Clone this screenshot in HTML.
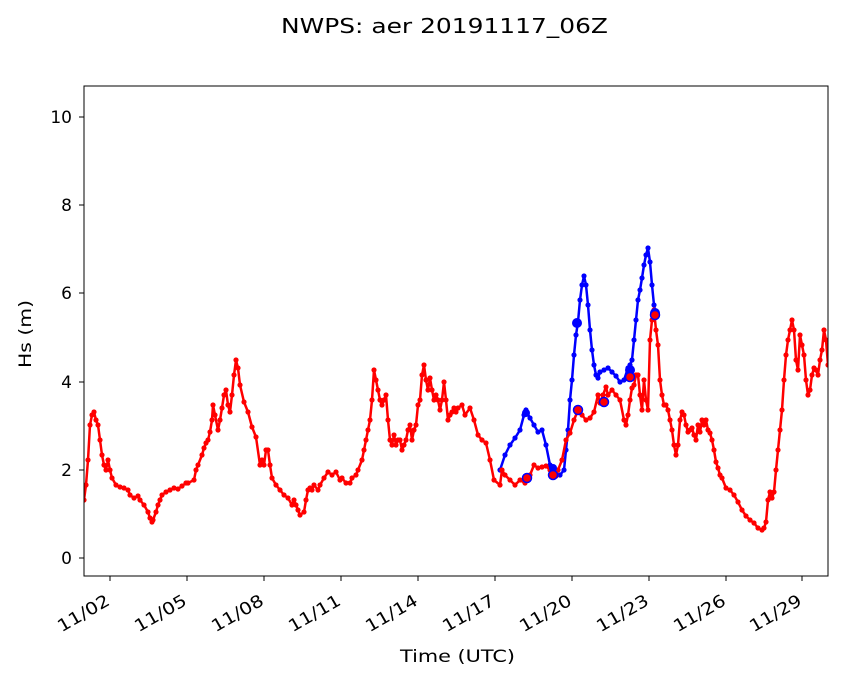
<!DOCTYPE html>
<html><head><meta charset="utf-8"><style>
html,body{margin:0;padding:0;background:#fff;}
svg text{font-family:"DejaVu Sans","Liberation Sans",sans-serif;fill:#000;}
</style></head><body>
<svg width="846" height="681" viewBox="0 0 846 681" xmlns="http://www.w3.org/2000/svg">
<defs>
<marker id="mr" markerUnits="userSpaceOnUse" markerWidth="7" markerHeight="7" refX="3.5" refY="3.5"><circle cx="3.5" cy="3.5" r="2.6" fill="#f00"/></marker>
<marker id="mb" markerUnits="userSpaceOnUse" markerWidth="7" markerHeight="7" refX="3.5" refY="3.5"><circle cx="3.5" cy="3.5" r="2.6" fill="#00f"/></marker>
<clipPath id="c"><rect x="84" y="86" width="744" height="490"/></clipPath>
</defs>
<rect width="846" height="681" fill="#fff"/>
<text x="281" y="33" font-size="20" textLength="327" lengthAdjust="spacingAndGlyphs">NWPS: aer 20191117_06Z</text>
<g clip-path="url(#c)">
<polyline fill="none" stroke="#00f" stroke-width="2.5" marker-start="url(#mb)" marker-mid="url(#mb)" marker-end="url(#mb)" points="500,470 505,455 510,445 515,438 520,430 524,415 526,410 530,418 534,425 538,432 542,430 546,445 550,465 552,470 556,475 560,475 564,470 566,450 568,430 570,400 572,380 574,355 576,335 578,322 580,300 582,285 584,276 586,285 588,305 590,330 592,350 594,365 596,375 598,378 600,372 604,370 608,368 612,372 616,376 620,382 624,380 628,368 630,365 632,360 634,340 636,320 638,300 640,290 642,278 644,265 646,255 648,248 650,262 652,285 654,305 656,315"/>
<polyline fill="none" stroke="#f00" stroke-width="2.5" stroke-linejoin="round" marker-start="url(#mr)" marker-mid="url(#mr)" marker-end="url(#mr)" points="84,500 86,485 88,460 90,425 92,415 94,412 96,420 98,425 100,440 102,455 104,465 106,470 108,460 110,470 112,478 116,485 120,487 124,488 128,490 130,495 134,498 138,496 140,500 144,505 148,512 150,518 152,522 153,520 156,512 158,505 160,500 162,495 166,492 170,490 174,488 178,489 182,486 186,483 188,483 194,480 196,470 198,465 202,455 204,448 206,443 208,440 210,432 212,420 213,405 215,415 218,430 220,420 222,408 224,395 226,390 228,405 230,412 232,395 234,375 236,360 238,368 240,385 244,402 248,412 252,427 256,437 260,465 262,460 264,465 266,450 268,450 270,465 272,478 276,485 280,490 284,495 288,498 292,505 294,500 296,505 298,510 300,515 304,512 306,500 308,490 310,488 312,490 314,485 318,490 320,485 324,478 328,472 332,475 336,472 340,480 342,478 346,483 350,483 352,478 356,475 358,470 362,460 364,450 366,440 368,430 370,420 372,400 374,370 376,380 378,390 380,400 382,405 384,400 386,395 388,420 390,440 392,445 394,435 396,445 398,440 400,440 402,450 404,445 406,440 408,430 410,425 412,440 414,430 416,425 418,405 420,400 422,375 424,365 426,380 428,390 430,378 432,390 434,400 436,395 438,400 440,410 442,400 444,382 446,400 448,420 450,415 452,412 454,408 456,412 458,408 462,405 465,415 470,408 474,420 478,435 482,440 486,443 490,460 494,480 500,485 502,470 505,475 510,480 515,485 520,480 525,483 530,475 534,465 538,468 542,467 546,466 550,470 553,475 556,476 558,470 562,460 566,440 570,433 574,420 578,410 582,415 586,420 590,418 594,412 598,395 600,403 603,395 606,387 608,395 612,390 616,395 620,400 624,420 626,425 628,415 630,400 632,388 634,385 636,375 638,375 640,395 642,410 644,380 646,400 648,410 650,340 652,320 654,310 656,330 658,345 660,380 662,395 664,405 666,405 668,410 670,420 672,430 674,445 676,455 678,445 680,420 682,412 684,415 686,425 688,432 690,430 692,428 694,435 696,440 698,425 700,432 702,420 704,425 706,420 708,430 710,433 712,440 714,450 716,462 718,468 720,475 722,478 726,488 730,490 734,495 738,502 742,510 746,516 750,520 754,523 758,528 762,530 764,528 766,522 768,500 770,492 772,498 774,492 776,470 778,450 780,430 782,410 784,380 786,355 788,340 790,330 792,320 794,330 796,360 798,370 800,335 802,345 804,355 806,380 808,395 810,390 812,375 814,368 816,370 818,375 820,360 822,350 824,330 826,340 828,365"/>
<g fill="#00f">
<circle cx="577" cy="323" r="5"/><circle cx="526" cy="413" r="4"/><circle cx="553" cy="468" r="4"/><circle cx="630" cy="370" r="5"/><circle cx="655" cy="313" r="5"/>
</g>
<g fill="#f00" stroke="#00f" stroke-width="1.5">
<circle cx="527" cy="478" r="4.5"/><circle cx="553" cy="475" r="4.5"/><circle cx="578" cy="410" r="4.5"/><circle cx="604" cy="402" r="4.5"/><circle cx="630" cy="377" r="4.5"/><circle cx="655" cy="315" r="4.5"/>
</g>
</g>
<rect x="84" y="86" width="744" height="490" fill="none" stroke="#000" stroke-width="1"/>
<g stroke="#000" stroke-width="1">
<line x1="84" y1="558" x2="79" y2="558"/><line x1="84" y1="470" x2="79" y2="470"/><line x1="84" y1="382" x2="79" y2="382"/><line x1="84" y1="293" x2="79" y2="293"/><line x1="84" y1="205" x2="79" y2="205"/><line x1="84" y1="117" x2="79" y2="117"/>
<line x1="110" y1="576" x2="110" y2="581"/><line x1="187" y1="576" x2="187" y2="581"/><line x1="264" y1="576" x2="264" y2="581"/><line x1="341" y1="576" x2="341" y2="581"/><line x1="418" y1="576" x2="418" y2="581"/><line x1="495" y1="576" x2="495" y2="581"/><line x1="572" y1="576" x2="572" y2="581"/><line x1="649" y1="576" x2="649" y2="581"/><line x1="726" y1="576" x2="726" y2="581"/><line x1="802" y1="576" x2="802" y2="581"/>
</g>
<g font-size="17" text-anchor="end">
<text x="72" y="564">0</text><text x="72" y="476">2</text><text x="72" y="388">4</text><text x="72" y="299">6</text><text x="72" y="211">8</text><text x="72" y="123">10</text>
</g>
<g font-size="17">
<text transform="translate(111,604) rotate(-30)" x="-57" textLength="57" lengthAdjust="spacingAndGlyphs">11/02</text>
<text transform="translate(188,604) rotate(-30)" x="-57" textLength="57" lengthAdjust="spacingAndGlyphs">11/05</text>
<text transform="translate(265,604) rotate(-30)" x="-57" textLength="57" lengthAdjust="spacingAndGlyphs">11/08</text>
<text transform="translate(342,604) rotate(-30)" x="-57" textLength="57" lengthAdjust="spacingAndGlyphs">11/11</text>
<text transform="translate(419,604) rotate(-30)" x="-57" textLength="57" lengthAdjust="spacingAndGlyphs">11/14</text>
<text transform="translate(496,604) rotate(-30)" x="-57" textLength="57" lengthAdjust="spacingAndGlyphs">11/17</text>
<text transform="translate(573,604) rotate(-30)" x="-57" textLength="57" lengthAdjust="spacingAndGlyphs">11/20</text>
<text transform="translate(650,604) rotate(-30)" x="-57" textLength="57" lengthAdjust="spacingAndGlyphs">11/23</text>
<text transform="translate(727,604) rotate(-30)" x="-57" textLength="57" lengthAdjust="spacingAndGlyphs">11/26</text>
<text transform="translate(803,604) rotate(-30)" x="-57" textLength="57" lengthAdjust="spacingAndGlyphs">11/29</text>
</g>
<text x="400" y="662" font-size="17" textLength="115" lengthAdjust="spacingAndGlyphs">Time (UTC)</text>
<text transform="translate(31,368) rotate(-90)" font-size="17" textLength="68" lengthAdjust="spacingAndGlyphs">Hs (m)</text>
</svg>
</body></html>
